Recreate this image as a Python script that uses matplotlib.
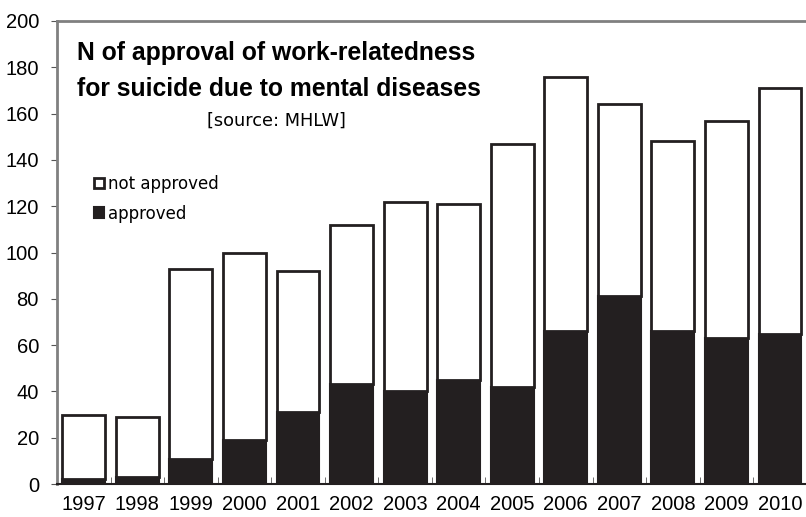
import matplotlib
matplotlib.use("Agg")
import matplotlib.pyplot as plt
import numpy as np

years = ["1997", "1998", "1999", "2000", "2001", "2002", "2003",
         "2004", "2005", "2006", "2007", "2008", "2009", "2010"]
total = [30, 29, 93, 100, 92, 112, 122, 121, 147, 176, 164, 148, 157, 171]
approved = [2, 3, 11, 19, 31, 43, 40, 45, 42, 66, 81, 66, 63, 65]
not_approved = [t - a for t, a in zip(total, approved)]
yticks = [0, 20, 40, 60, 80, 100, 120, 140, 160, 180, 200]

plt.rcParams['font.family'] = ['Liberation Sans', 'DejaVu Sans']

fig = plt.figure(figsize=(8.06, 5.17), dpi=100)
ax = fig.add_axes([57/806, 1 - 484/517, 1 - 57/806 + 0.001, (484 - 21)/517])

x = np.arange(len(years))
dark = '#231f20'
ax.bar(x, approved, width=0.8, color=dark, edgecolor=dark, linewidth=1.5, label='approved')
ax.bar(x, not_approved, bottom=approved, width=0.8, color='white', edgecolor=dark,
       linewidth=2, label='not approved')

ax.set_xlim(-0.5, len(years) - 0.5)
ax.set_ylim(0, 200)
ax.set_yticks(yticks)
ax.set_yticklabels([str(v) for v in yticks], fontsize=14.5)
ax.tick_params(axis='y', direction='out', length=4, color='#555555', pad=9)
ax.set_xticks(x)
ax.set_xticklabels(years, fontsize=14.5)
ax.tick_params(axis='x', length=0, pad=8)
# minor ticks at category boundaries, pointing inward
ax.set_xticks(np.arange(-0.5, len(years), 1), minor=True)
ax.tick_params(axis='x', which='minor', direction='in', length=5, color='#555555')

for s in ['left', 'top']:
    ax.spines[s].set_color('#808080')
    ax.spines[s].set_linewidth(2)
ax.spines['bottom'].set_color(dark)
ax.spines['bottom'].set_linewidth(1.5)
ax.spines['right'].set_visible(False)

ax.text(0.027, 0.931, "N of approval of work-relatedness", transform=ax.transAxes,
        fontsize=17.8, fontweight='bold', va='center', ha='left')
ax.text(0.027, 0.853, "for suicide due to mental diseases", transform=ax.transAxes,
        fontsize=17.8, fontweight='bold', va='center', ha='left')
ax.text(0.2, 0.785, "[source: MHLW]", transform=ax.transAxes,
        fontsize=12.8, family=['DejaVu Sans'], va='center', ha='left')

handles, labels = ax.get_legend_handles_labels()
leg = ax.legend(handles[::-1], labels[::-1], loc='upper left', bbox_to_anchor=(0.03, 0.70),
                frameon=False, handlelength=0.6, handleheight=0.6,
                handletextpad=0.2, labelspacing=0.7, prop={'family': 'DejaVu Sans', 'size': 12})

fig.savefig("out.png", dpi=100)
